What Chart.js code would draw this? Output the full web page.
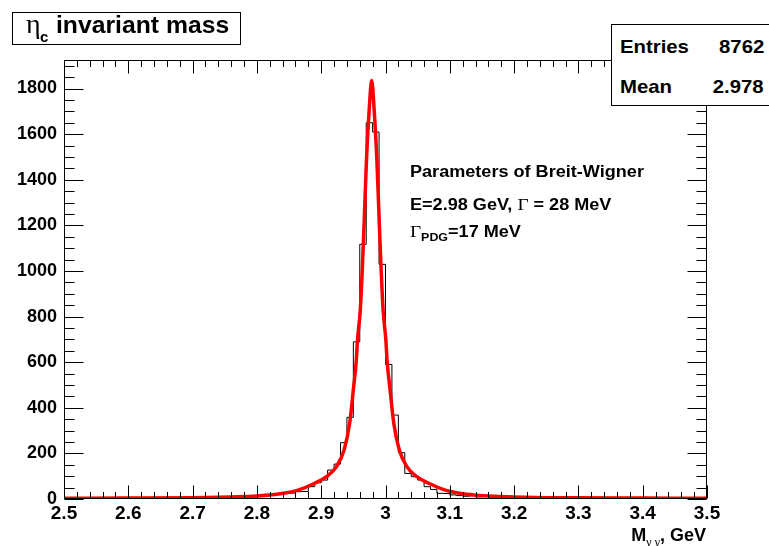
<!DOCTYPE html>
<html>
<head>
<meta charset="utf-8">
<title>eta_c invariant mass</title>
<script src="https://cdn.jsdelivr.net/npm/chart.js@4/dist/chart.umd.min.js"></script>
<style>
  html, body { margin: 0; padding: 0; background: #fff; }
  #wrap { position: relative; width: 769px; height: 546px; overflow: hidden; background: #fff; }
  #c { position: absolute; left: 0; top: 0; }
  .box { position: absolute; background: #fff; border: 1px solid #000; box-sizing: border-box; }
  .t { position: absolute; font-family: "Liberation Sans", Arial, Helvetica, sans-serif; font-weight: bold;
       color: #000; white-space: nowrap; }
  .sym { font-family: "Liberation Serif", "Times New Roman", serif; font-weight: normal; }
</style>
</head>
<body>
<div id="wrap">
  <canvas id="c" width="769" height="546"></canvas>

  <!-- histogram title -->
  <div class="box" style="left:12px; top:12px; width:229px; height:33px;"></div>
  <div class="t sym" style="left:26px; top:10px; font-size:28px; line-height:28px;">η</div>
  <div class="t" style="left:40px; top:29px; font-size:15px; line-height:15px;">c</div>
  <div class="t" style="left:56px; top:13px; font-size:24px; line-height:24px; transform:scaleX(1.03); transform-origin:0 0;">invariant mass</div>

  <!-- statistics box -->
  <div class="box" style="left:611px; top:24px; width:160px; height:82px;"></div>
  <div class="t" style="left:620px; top:36.6px; font-size:19px; line-height:19px; transform:scaleX(1.07); transform-origin:0 0;">Entries</div>
  <div class="t" style="right:5px; top:36.6px; font-size:19px; line-height:19px; transform:scaleX(1.07); transform-origin:100% 0;">8762</div>
  <div class="t" style="left:620px; top:76.6px; font-size:19px; line-height:19px; transform:scaleX(1.07); transform-origin:0 0;">Mean</div>
  <div class="t" style="right:5px; top:76.6px; font-size:19px; line-height:19px; transform:scaleX(1.07); transform-origin:100% 0;">2.978</div>

  <!-- fit parameters -->
  <div class="t" style="left:410px; top:163.8px; font-size:16px; line-height:16px; transform:scaleX(1.13); transform-origin:0 0;">Parameters of Breit-Wigner</div>
  <div class="t" style="left:410px; top:196.5px; font-size:16px; line-height:16px; transform:scaleX(1.13); transform-origin:0 0;">E=2.98 GeV, <span class="sym" style="font-size:17px; line-height:0;">Γ</span> = 28 MeV</div>
  <div class="t" style="left:410px; top:223.8px; font-size:16px; line-height:16px; transform:scaleX(1.13); transform-origin:0 0;"><span class="sym" style="font-size:17px; line-height:0;">Γ</span><span style="font-size:11px; line-height:0; position:relative; top:4.4px;">PDG</span>=17 MeV</div>

  <!-- x axis title -->
  <div class="t" style="right:63px; top:525.8px; font-size:18px; line-height:18px;">M<span class="sym" style="font-size:12px; line-height:0; position:relative; top:5px;">γ γ</span>, GeV</div>
</div>

<script>
// Histogram: 100 bins of 10 MeV from 2.50 to 3.50 GeV
const histRange = [2.5, 3.5];
const histCounts = [
  2, 1, 3, 2, 1, 3, 2, 2, 4, 1,            // 2.50 - 2.60
  3, 2, 4, 3, 5, 2, 4, 6, 3, 5,            // 2.60 - 2.70
  6, 4, 7, 5, 8, 6, 9, 7, 10, 11,          // 2.70 - 2.80
  12, 14, 17, 21, 25, 26, 32, 33, 54, 71,  // 2.80 - 2.90
  83, 127, 153, 247, 358, 689, 1117, 1650, 1609, 1029, // 2.90 - 3.00
  590, 368, 203, 112, 98, 83, 54, 42, 25, 24,          // 3.00 - 3.10
  18, 15, 12, 14, 9, 10, 8, 7, 9, 6,       // 3.10 - 3.20
  6, 5, 7, 4, 5, 3, 6, 4, 3, 5,            // 3.20 - 3.30
  3, 4, 2, 3, 4, 2, 3, 2, 3, 2,            // 3.30 - 3.40
  2, 3, 1, 2, 2, 3, 1, 2, 1, 2             // 3.40 - 3.50
];

// Breit-Wigner fit curve, sampled points (GeV, entries per bin)
const fitX = [
  2.5000, 2.6000, 2.7000, 2.7600, 2.8000, 2.8418, 2.8640, 2.8900, 2.9082, 2.9238,
  2.9356, 2.9442, 2.9499, 2.9546, 2.9564, 2.9608, 2.9645, 2.9675, 2.9704, 2.9746,
  2.9785,
  2.9824, 2.9866, 2.9896, 2.9926, 2.9963, 3.0006, 3.0024, 3.0072, 3.0129, 3.0215,
  3.0332, 3.0488, 3.0671, 3.0930, 3.1153, 3.1400, 3.1700, 3.2000, 3.2500, 3.3000,
  3.4000, 3.5000
];
const fitY = [
  3, 4, 6, 9, 13, 25, 39, 69, 98, 142,
  215, 331, 477, 609, 696, 828, 1047, 1266, 1485, 1704,
  1835,
  1704, 1485, 1266, 1047, 828, 696, 609, 477, 331, 215,
  142, 98, 69, 39, 25, 17, 12, 9, 6, 5,
  4, 3
];

// Axis ranges and labelled ticks
const xRange = [2.5, 3.5];
const yRange = [0, 1925];
const xTickValues = [2.5, 2.6, 2.7, 2.8, 2.9, 3.0, 3.1, 3.2, 3.3, 3.4, 3.5];
const xTickLabels = ['2.5', '2.6', '2.7', '2.8', '2.9', '3', '3.1', '3.2', '3.3', '3.4', '3.5'];
const yTickValues = [0, 200, 400, 600, 800, 1000, 1200, 1400, 1600, 1800];
const yTickLabels = ['0', '200', '400', '600', '800', '1000', '1200', '1400', '1600', '1800'];

const nBins = histCounts.length;
const binWidth = (histRange[1] - histRange[0]) / nBins;
const histPoints = histCounts.map((c, i) => ({ x: histRange[0] + i * binWidth, y: c }));
histPoints.push({ x: histRange[1], y: histCounts[nBins - 1] });
const fitPoints = fitX.map((x, i) => ({ x: x, y: fitY[i] }));

const xTickFont = { family: '"Liberation Sans", Arial, sans-serif', weight: 'bold', size: 19 };
const yTickFont = { family: '"Liberation Sans", Arial, sans-serif', weight: 'bold', size: 18 };

// White page background
const background = {
  id: 'background',
  beforeDraw(chart) {
    const ctx = chart.ctx;
    ctx.save();
    ctx.fillStyle = '#fff';
    ctx.fillRect(0, 0, chart.width, chart.height);
    ctx.restore();
  }
};

// Frame with inward ticks on all four sides
const frame = {
  id: 'frame',
  afterDatasetsDraw(chart) {
    const { ctx, chartArea: a, scales } = chart;
    const xs = scales.x, ys = scales.y;
    const L = Math.round(a.left) + 0.5, R = Math.round(a.right) - 0.5;
    const T = Math.round(a.top) + 0.5, B = Math.round(a.bottom) - 0.5;
    ctx.save();
    ctx.strokeStyle = '#000';
    ctx.lineWidth = 1;
    ctx.strokeRect(L, T, R - L, B - T);
    ctx.beginPath();
    const xTick = (v, len) => {
      const p = Math.round(xs.getPixelForValue(v)) + 0.5;
      ctx.moveTo(p, B); ctx.lineTo(p, B - len);
      ctx.moveTo(p, T); ctx.lineTo(p, T + len);
    };
    const yTick = (v, len) => {
      const p = Math.round(ys.getPixelForValue(v)) + 0.5;
      ctx.moveTo(L, p); ctx.lineTo(L + len, p);
      ctx.moveTo(R, p); ctx.lineTo(R - len, p);
    };
    xTickValues.forEach((v, i) => {
      xTick(v, 13);
      if (i < xTickValues.length - 1) {
        const step = (xTickValues[i + 1] - v) / 5;
        for (let k = 1; k < 5; k++) xTick(v + k * step, 6.5);
      }
    });
    const yStep = (yTickValues[1] - yTickValues[0]) / 4;
    yTickValues.forEach(v => {
      yTick(v, 19);
      for (let k = 1; k < 4; k++) {
        const m = v + k * yStep;
        if (m < yRange[1]) yTick(m, 10);
      }
    });
    ctx.stroke();
    ctx.restore();
  }
};

new Chart(document.getElementById('c'), {
  type: 'line',
  data: {
    datasets: [
      {
        label: 'Breit-Wigner',
        data: fitPoints,
        borderColor: '#ff0000',
        borderWidth: 3.5,
        pointRadius: 0,
        fill: false,
        cubicInterpolationMode: 'monotone'
      },
      {
        label: 'M(gamma gamma)',
        data: histPoints,
        borderColor: '#000000',
        borderWidth: 1,
        pointRadius: 0,
        fill: false,
        stepped: true
      }
    ]
  },
  options: {
    responsive: false,
    animation: false,
    devicePixelRatio: 1,
    layout: { padding: { top: 60, right: 62, left: 0, bottom: 0 } },
    plugins: {
      legend: { display: false },
      tooltip: { enabled: false },
      title: { display: false }
    },
    scales: {
      x: {
        type: 'linear',
        min: xRange[0],
        max: xRange[1],
        grid: { display: false, drawTicks: false },
        border: { display: false },
        afterBuildTicks: s => { s.ticks = xTickValues.map(v => ({ value: v })); },
        ticks: {
          autoSkip: false,
          maxRotation: 0,
          padding: 3,
          color: '#000',
          font: xTickFont,
          callback: (v, i) => xTickLabels[i]
        },
        afterFit: s => { s.height = 47; s.paddingLeft = 0; s.paddingRight = 0; }
      },
      y: {
        type: 'linear',
        min: yRange[0],
        max: yRange[1],
        grid: { display: false, drawTicks: false },
        border: { display: false },
        afterBuildTicks: s => { s.ticks = yTickValues.map(v => ({ value: v })); },
        ticks: {
          autoSkip: false,
          padding: 7,
          color: '#000',
          font: yTickFont,
          callback: (v, i) => yTickLabels[i]
        },
        afterFit: s => { s.width = 64; s.paddingTop = 0; s.paddingBottom = 0; }
      }
    }
  },
  plugins: [background, frame]
});
</script>
</body>
</html>
